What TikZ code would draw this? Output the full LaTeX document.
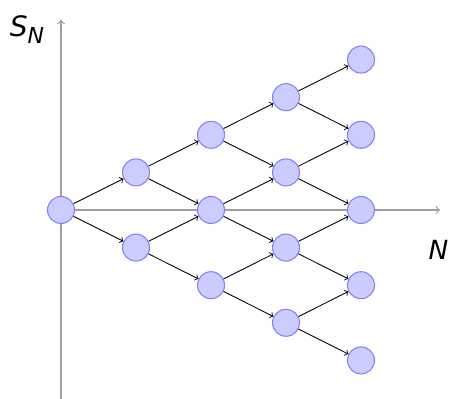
\documentclass[tikz,border=0pt]{standalone}
\usepackage{fontspec}
\setmainfont{DejaVu Sans}
\usepackage{tikz}
\usetikzlibrary{arrows,positioning}

\tikzset{
    state/.style={circle, fill=blue!20, draw=blue!50, line width=0.6pt, minimum size=0.54cm, inner sep=0pt},
    axis/.style={gray!75, ->, line width=0.7pt},
    move/.style={->, line width=0.5pt}
}

\begin{document}
\begin{tikzpicture}
    \useasboundingbox (-1.22,-3.78) rectangle (7.76,4.2);

    % Axes
    \coordinate (origin) at (0,0);
    \coordinate (xend) at (7.58,0);
    \coordinate (ybot) at (0,-3.78);
    \coordinate (yend) at (0,3.8);
    \draw[axis] (origin) -- (xend);
    \draw[axis] (ybot) -- (yend);

    % Tree nodes
    \foreach \i in {0,1,2,3,4} {
        \foreach \j in {0,...,\i} {
            \node[state] (n-\i-\j) at (\i*1.5, {(\i-2*\j)*0.752}) {};
        }
    }

    % Up and down moves
    \foreach \i [evaluate=\i as \k using int(\i+1)] in {0,1,2,3} {
        \foreach \j [evaluate=\j as \l using int(\j+1)] in {0,...,\i} {
            \draw[move] (n-\i-\j) -- (n-\k-\j);
            \draw[move] (n-\i-\j) -- (n-\k-\l);
        }
    }

    % Labels
    \node[font=\fontsize{16}{19}\selectfont\itshape] (sn) at (-0.68,3.6) {S\raisebox{-0.45ex}{\fontsize{12.5}{15}\selectfont N}};
    \node[font=\fontsize{15}{18}\selectfont\itshape] (nn) at (7.55,-0.8) {N};

\end{tikzpicture}
\end{document}
